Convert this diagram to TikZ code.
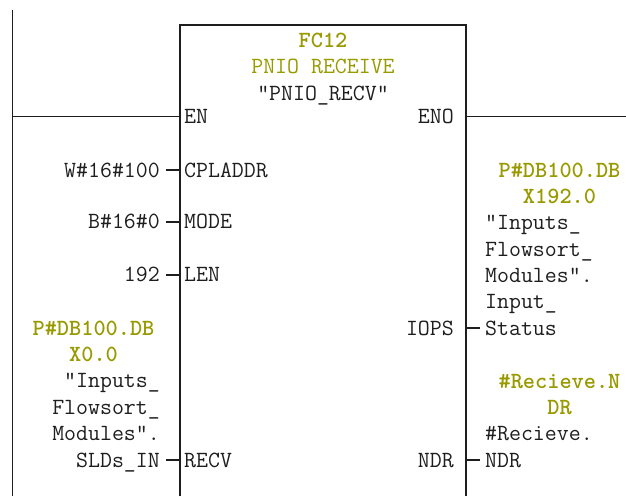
\documentclass[tikz,border=0pt]{standalone}
\definecolor{addr}{RGB}{153,153,0}
\definecolor{ink}{RGB}{30,30,30}
\begin{document}
\begin{tikzpicture}[x=1pt,y=-1pt,
  txt/.style={inner sep=0pt,text=ink,font=\ttfamily\fontsize{23.2}{26.5}\selectfont},
  adr/.style={inner sep=0pt,text=addr,font=\ttfamily\bfseries\fontsize{23.2}{26.5}\selectfont},
  wire/.style={line width=1.5pt,draw=ink}]
\useasboundingbox (0,0) rectangle (626,496);
% box and rails
\coordinate (bl) at (180,496); \coordinate (tl) at (180,25);
\coordinate (tr) at (466,25);  \coordinate (br) at (466,496);
\draw[wire] (bl) -- (tl) -- (tr) -- (br);
\coordinate (railtop) at (12.5,10); \coordinate (railbot) at (12.5,496);
\draw[wire] (railtop) -- (railbot);
\coordinate (enL) at (12.5,116.7); \coordinate (enR) at (180,116.7);
\coordinate (enoL) at (466,116.7); \coordinate (enoR) at (626,116.7);
\draw[wire] (enL) -- (enR);
\draw[wire] (enoL) -- (enoR);
% header
\node[adr,anchor=base] (fc) at (323,47) {FC12};
\node[txt,text=addr,anchor=base] (title) at (323,73.5) {PNIO RECEIVE};
\node[txt,anchor=base] (sym) at (323,100) {"PNIO\_RECV"};
% pins inside box
\node[txt,anchor=base west] (pEN) at (184,123) {EN};
\node[txt,anchor=base east] (pENO) at (454,123) {ENO};
\node[txt,anchor=base west] (pCPL) at (184,177) {CPLADDR};
\node[txt,anchor=base west] (pMODE) at (184,228) {MODE};
\node[txt,anchor=base west] (pLEN) at (184,281) {LEN};
\node[txt,anchor=base west] (pRECV) at (184,467) {RECV};
\node[txt,anchor=base east] (pIOPS) at (454,335) {IOPS};
\node[txt,anchor=base east] (pNDR) at (454,467) {NDR};
% left actual parameters
\node[txt,anchor=base east] (aCPL) at (160,177) {W\#16\#100};
\node[txt,anchor=base east] (aMODE) at (160,228) {B\#16\#0};
\node[txt,anchor=base east] (aLEN) at (160,281) {192};
\node[adr,anchor=base] (aR1) at (93.5,335) {P\#DB100.DB};
\node[adr,anchor=base] (aR2) at (93.5,361.4) {X0.0};
\node[txt,anchor=base east] (aR3) at (160,387.8) {"Inputs\_};
\node[txt,anchor=base east] (aR4) at (160,414.2) {Flowsort\_};
\node[txt,anchor=base east] (aR5) at (160,440.6) {Modules".};
\node[txt,anchor=base east] (aR6) at (160,467) {SLDs\_IN};
% right actual parameters
\node[adr,anchor=base] (bI1) at (559.5,177) {P\#DB100.DB};
\node[adr,anchor=base] (bI2) at (559.5,203.5) {X192.0};
\node[txt,anchor=base west] (bI3) at (485,229.8) {"Inputs\_};
\node[txt,anchor=base west] (bI4) at (485,256.1) {Flowsort\_};
\node[txt,anchor=base west] (bI5) at (485,282.4) {Modules".};
\node[txt,anchor=base west] (bI6) at (485,308.7) {Input\_};
\node[txt,anchor=base west] (bI7) at (485,335) {Status};
\node[adr,anchor=base] (bN1) at (559.5,388) {\#Recieve.N};
\node[adr,anchor=base] (bN2) at (559.5,414) {DR};
\node[txt,anchor=base west] (bN3) at (485,440.5) {\#Recieve.};
\node[txt,anchor=base west] (bN4) at (485,467) {NDR};
% parameter ticks
\foreach \n/\y in {tCPL/170,tMODE/222,tLEN/275,tRECV/460}{
  \coordinate (\n a) at (166,\y); \coordinate (\n b) at (180,\y);
  \draw[wire] (\n a) -- (\n b);}
\foreach \n/\y in {tIOPS/328,tNDR/460}{
  \coordinate (\n a) at (466,\y); \coordinate (\n b) at (480,\y);
  \draw[wire] (\n a) -- (\n b);}
\end{tikzpicture}
\end{document}
